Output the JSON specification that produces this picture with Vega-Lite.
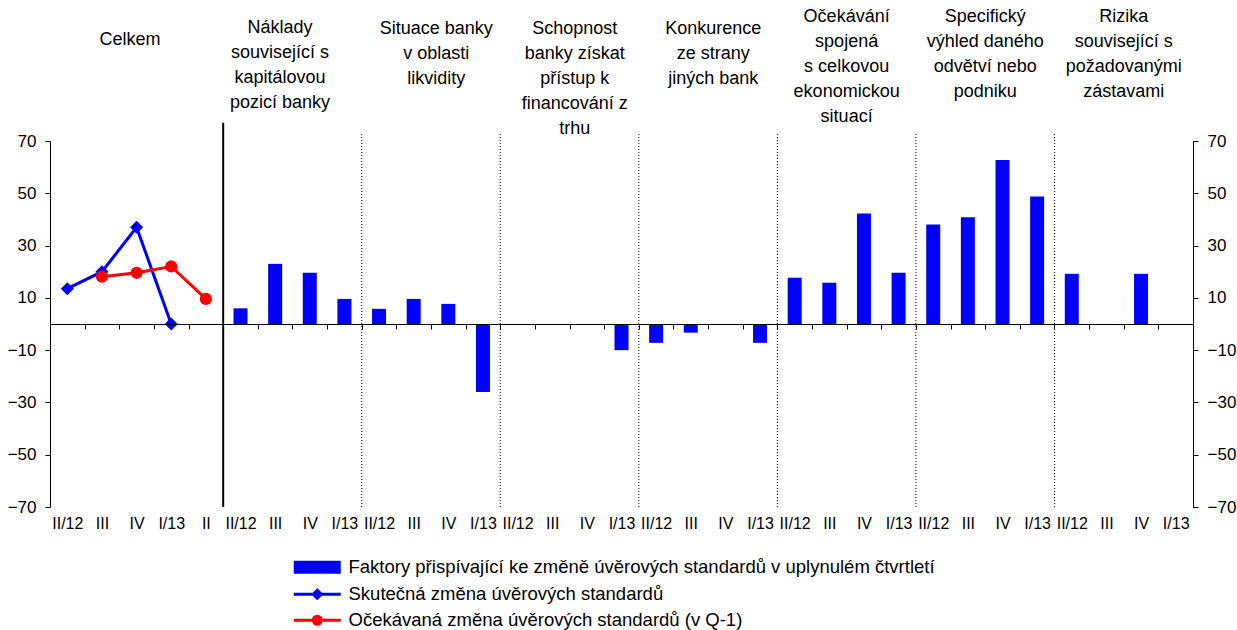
{
  "$schema": "https://vega.github.io/schema/vega-lite/v6.json",
  "width": 1143,
  "height": 366,
  "autosize": {"type": "none"},
  "padding": {"left": 50, "top": 141, "right": 44, "bottom": 123},
  "background": "white",
  "config": {
    "view": {"stroke": null},
    "font": "Liberation Sans",
    "axis": {"labelFont": "Liberation Sans", "labelFontSize": 17, "labelColor": "#000000", "domainColor": "#000000", "tickColor": "#000000", "grid": false, "title": null}
  },
  "data": {"values": [
      {"q": "1_II/12", "series": "Faktory přispívající ke změně úvěrových standardů v uplynulém čtvrtletí", "value": 6},
      {"q": "1_III", "series": "Faktory přispívající ke změně úvěrových standardů v uplynulém čtvrtletí", "value": 23},
      {"q": "1_IV", "series": "Faktory přispívající ke změně úvěrových standardů v uplynulém čtvrtletí", "value": 19.6},
      {"q": "1_I/13", "series": "Faktory přispívající ke změně úvěrových standardů v uplynulém čtvrtletí", "value": 9.6},
      {"q": "2_II/12", "series": "Faktory přispívající ke změně úvěrových standardů v uplynulém čtvrtletí", "value": 5.8},
      {"q": "2_III", "series": "Faktory přispívající ke změně úvěrových standardů v uplynulém čtvrtletí", "value": 9.6},
      {"q": "2_IV", "series": "Faktory přispívající ke změně úvěrových standardů v uplynulém čtvrtletí", "value": 7.7},
      {"q": "2_I/13", "series": "Faktory přispívající ke změně úvěrových standardů v uplynulém čtvrtletí", "value": -26},
      {"q": "3_II/12", "series": "Faktory přispívající ke změně úvěrových standardů v uplynulém čtvrtletí", "value": 0},
      {"q": "3_III", "series": "Faktory přispívající ke změně úvěrových standardů v uplynulém čtvrtletí", "value": 0},
      {"q": "3_IV", "series": "Faktory přispívající ke změně úvěrových standardů v uplynulém čtvrtletí", "value": 0},
      {"q": "3_I/13", "series": "Faktory přispívající ke změně úvěrových standardů v uplynulém čtvrtletí", "value": -10},
      {"q": "4_II/12", "series": "Faktory přispívající ke změně úvěrových standardů v uplynulém čtvrtletí", "value": -7.2},
      {"q": "4_III", "series": "Faktory přispívající ke změně úvěrových standardů v uplynulém čtvrtletí", "value": -3.3},
      {"q": "4_IV", "series": "Faktory přispívající ke změně úvěrových standardů v uplynulém čtvrtletí", "value": 0},
      {"q": "4_I/13", "series": "Faktory přispívající ke změně úvěrových standardů v uplynulém čtvrtletí", "value": -7.2},
      {"q": "5_II/12", "series": "Faktory přispívající ke změně úvěrových standardů v uplynulém čtvrtletí", "value": 17.7},
      {"q": "5_III", "series": "Faktory přispívající ke změně úvěrových standardů v uplynulém čtvrtletí", "value": 15.8},
      {"q": "5_IV", "series": "Faktory přispívající ke změně úvěrových standardů v uplynulém čtvrtletí", "value": 42.3},
      {"q": "5_I/13", "series": "Faktory přispívající ke změně úvěrových standardů v uplynulém čtvrtletí", "value": 19.6},
      {"q": "6_II/12", "series": "Faktory přispívající ke změně úvěrových standardů v uplynulém čtvrtletí", "value": 38.1},
      {"q": "6_III", "series": "Faktory přispívající ke změně úvěrových standardů v uplynulém čtvrtletí", "value": 40.8},
      {"q": "6_IV", "series": "Faktory přispívající ke změně úvěrových standardů v uplynulém čtvrtletí", "value": 62.7},
      {"q": "6_I/13", "series": "Faktory přispívající ke změně úvěrových standardů v uplynulém čtvrtletí", "value": 48.8},
      {"q": "7_II/12", "series": "Faktory přispívající ke změně úvěrových standardů v uplynulém čtvrtletí", "value": 19.2},
      {"q": "7_III", "series": "Faktory přispívající ke změně úvěrových standardů v uplynulém čtvrtletí", "value": 0},
      {"q": "7_IV", "series": "Faktory přispívající ke změně úvěrových standardů v uplynulém čtvrtletí", "value": 19.2},
      {"q": "7_I/13", "series": "Faktory přispívající ke změně úvěrových standardů v uplynulém čtvrtletí", "value": 0},
      {"q": "0_II/12", "series": "Skutečná změna úvěrových standardů", "value": 13.5},
      {"q": "0_III", "series": "Skutečná změna úvěrových standardů", "value": 20},
      {"q": "0_IV", "series": "Skutečná změna úvěrových standardů", "value": 37},
      {"q": "0_I/13", "series": "Skutečná změna úvěrových standardů", "value": 0},
      {"q": "0_III", "series": "Očekávaná změna úvěrových standardů (v Q-1)", "value": 18.1},
      {"q": "0_IV", "series": "Očekávaná změna úvěrových standardů (v Q-1)", "value": 19.6},
      {"q": "0_I/13", "series": "Očekávaná změna úvěrových standardů (v Q-1)", "value": 22},
      {"q": "0_II", "series": "Očekávaná změna úvěrových standardů (v Q-1)", "value": 9.6},
      {"q": "0_IV", "head": "Celkem", "tier": "c"},
      {"q": "1_III", "head": "Náklady\nsouvisející s\nkapitálovou\npozicí banky", "tier": "n"},
      {"q": "2_III", "head": "Situace banky\nv oblasti\nlikvidity", "tier": "b"},
      {"q": "3_III", "head": "Schopnost\nbanky získat\npřístup k\nfinancování z\ntrhu", "tier": "b"},
      {"q": "4_III", "head": "Konkurence\nze strany\njiných bank", "tier": "b"},
      {"q": "5_III", "head": "Očekávání\nspojená\ns celkovou\nekonomickou\nsituací", "tier": "a"},
      {"q": "6_III", "head": "Specifický\nvýhled daného\nodvětví nebo\npodniku", "tier": "a"},
      {"q": "7_III", "head": "Rizika\nsouvisející s\npožadovanými\nzástavami", "tier": "a"}
  ]},
  "resolve": {"scale": {"y": "independent"}},
  "layer": [
    {
      "encoding": {
        "x": {
          "field": "q", "type": "nominal", "sort": null,
          "scale": {"domain": ["0_II/12","0_III","0_IV","0_I/13","0_II","1_II/12","1_III","1_IV","1_I/13","2_II/12","2_III","2_IV","2_I/13","3_II/12","3_III","3_IV","3_I/13","4_II/12","4_III","4_IV","4_I/13","5_II/12","5_III","5_IV","5_I/13","6_II/12","6_III","6_IV","6_I/13","7_II/12","7_III","7_IV","7_I/13"], "paddingInner": 0, "paddingOuter": 0},
          "axis": {"orient": "bottom", "offset": -183, "labelExpr": "split(datum.value, '_')[1]", "labelAngle": 0, "labelFontSize": 16, "labelPadding": 186, "labelBaseline": "top", "tickBand": "extent", "tickSize": 5, "domainWidth": 1, "labelOverlap": false, "title": null, "zindex": 1}
        }
      },
      "layer": [
        {
          "transform": [{"filter": "datum.series === 'Faktory přispívající ke změně úvěrových standardů v uplynulém čtvrtletí'"}],
          "mark": {"type": "bar", "size": 14, "color": "#0000FF"},
          "encoding": {
            "y": {"field": "value", "type": "quantitative", "scale": {"domain": [-70, 70], "nice": false, "zero": false}, "axis": {"orient": "left", "values": [-70, -50, -30, -10, 10, 30, 50, 70], "tickSize": 5, "labelPadding": 9, "title": null}}
          }
        },
        {
          "transform": [{"filter": "datum.series === 'Skutečná změna úvěrových standardů'"}],
          "mark": {"type": "line", "color": "#0000FF", "strokeWidth": 3},
          "encoding": {
            "y": {"field": "value", "type": "quantitative", "scale": {"domain": [-70, 70], "nice": false, "zero": false}, "axis": {"orient": "left", "values": [-70, -50, -30, -10, 10, 30, 50, 70], "tickSize": 5, "labelPadding": 9, "title": null}}
          }
        },
        {
          "transform": [{"filter": "datum.series === 'Skutečná změna úvěrových standardů'"}],
          "mark": {"type": "point", "shape": "diamond", "filled": true, "color": "#0000FF", "size": 170, "opacity": 1},
          "encoding": {
            "y": {"field": "value", "type": "quantitative", "scale": {"domain": [-70, 70], "nice": false, "zero": false}, "axis": {"orient": "left", "values": [-70, -50, -30, -10, 10, 30, 50, 70], "tickSize": 5, "labelPadding": 9, "title": null}}
          }
        },
        {
          "transform": [{"filter": "datum.series === 'Očekávaná změna úvěrových standardů (v Q-1)'"}],
          "mark": {"type": "line", "color": "#FF0000", "strokeWidth": 3},
          "encoding": {
            "y": {"field": "value", "type": "quantitative", "scale": {"domain": [-70, 70], "nice": false, "zero": false}, "axis": {"orient": "left", "values": [-70, -50, -30, -10, 10, 30, 50, 70], "tickSize": 5, "labelPadding": 9, "title": null}}
          }
        },
        {
          "transform": [{"filter": "datum.series === 'Očekávaná změna úvěrových standardů (v Q-1)'"}],
          "mark": {"type": "point", "shape": "circle", "filled": true, "color": "#FF0000", "size": 150, "opacity": 1},
          "encoding": {
            "y": {"field": "value", "type": "quantitative", "scale": {"domain": [-70, 70], "nice": false, "zero": false}, "axis": {"orient": "left", "values": [-70, -50, -30, -10, 10, 30, 50, 70], "tickSize": 5, "labelPadding": 9, "title": null}}
          }
        },
        {
          "transform": [{"filter": "datum.q === '1_II/12' && isValid(datum.series)"}],
          "mark": {"type": "rule", "color": "#000000", "strokeWidth": 2},
          "encoding": {
            "x": {"field": "q", "type": "nominal", "sort": null, "bandPosition": 0},
            "y": {"datum": -70},
            "y2": {"datum": 77}
          }
        },
        {
          "transform": [{"filter": "datum.series === 'Faktory přispívající ke změně úvěrových standardů v uplynulém čtvrtletí' && datum.q !== '1_II/12' && indexof(datum.q, '_II/12') > 0"}],
          "mark": {"type": "rule", "color": "#000000", "strokeWidth": 1, "strokeDash": [1, 2]},
          "encoding": {
            "x": {"field": "q", "type": "nominal", "sort": null, "bandPosition": 0},
            "y": {"datum": -70},
            "y2": {"datum": 73}
          }
        },
        {
          "transform": [{"filter": "datum.tier === 'c'"}],
          "mark": {"type": "text", "align": "center", "baseline": "top", "fontSize": 18, "lineHeight": 25, "lineBreak": "\n", "fill": "#000000"},
          "encoding": {
            "x": {"field": "q", "type": "nominal", "sort": null, "bandPosition": 0.31},
            "y": {"datum": 112.2},
            "text": {"field": "head", "type": "nominal"}
          }
        },
        {
          "transform": [{"filter": "datum.tier === 'n'"}],
          "mark": {"type": "text", "align": "center", "baseline": "top", "fontSize": 18, "lineHeight": 25, "lineBreak": "\n", "fill": "#000000"},
          "encoding": {
            "x": {"field": "q", "type": "nominal", "sort": null, "bandPosition": 0.64},
            "y": {"datum": 116.6},
            "text": {"field": "head", "type": "nominal"}
          }
        },
        {
          "transform": [{"filter": "datum.tier === 'b'"}],
          "mark": {"type": "text", "align": "center", "baseline": "top", "fontSize": 18, "lineHeight": 25, "lineBreak": "\n", "fill": "#000000"},
          "encoding": {
            "x": {"field": "q", "type": "nominal", "sort": null, "bandPosition": 1.15},
            "y": {"datum": 116.3},
            "text": {"field": "head", "type": "nominal"}
          }
        },
        {
          "transform": [{"filter": "datum.tier === 'a'"}],
          "mark": {"type": "text", "align": "center", "baseline": "top", "fontSize": 18, "lineHeight": 25, "lineBreak": "\n", "fill": "#000000"},
          "encoding": {
            "x": {"field": "q", "type": "nominal", "sort": null, "bandPosition": 1},
            "y": {"datum": 121},
            "text": {"field": "head", "type": "nominal"}
          }
        },
        {
          "transform": [{"filter": "isValid(datum.series)"}],
          "mark": {"type": "point", "filled": true, "opacity": 0, "strokeWidth": 3},
          "encoding": {
            "fill": {
              "field": "series", "type": "nominal",
              "scale": {"domain": ["Faktory přispívající ke změně úvěrových standardů v uplynulém čtvrtletí", "Skutečná změna úvěrových standardů", "Očekávaná změna úvěrových standardů (v Q-1)"], "range": ["#0000FF", "#0000FF", "#FF0000"]},
              "legend": {"title": null, "orient": "none", "legendX": 241, "legendY": 417, "direction": "vertical", "symbolSize": 100, "symbolStrokeWidth": 3, "symbolOpacity": 1, "symbolOffset": 17, "labelOffset": 22, "labelFontSize": 18.5, "labelFont": "Liberation Sans", "labelColor": "#000000", "rowPadding": 5, "labelLimit": 900}
            },
            "stroke": {
              "field": "series", "type": "nominal",
              "scale": {"domain": ["Faktory přispívající ke změně úvěrových standardů v uplynulém čtvrtletí", "Skutečná změna úvěrových standardů", "Očekávaná změna úvěrových standardů (v Q-1)"], "range": ["#0000FF", "#0000FF", "#FF0000"]},
              "legend": {"title": null, "orient": "none", "legendX": 241, "legendY": 417, "direction": "vertical", "symbolSize": 100, "symbolStrokeWidth": 3, "symbolOpacity": 1, "symbolOffset": 17, "labelOffset": 22, "labelFontSize": 18.5, "labelFont": "Liberation Sans", "labelColor": "#000000", "rowPadding": 5, "labelLimit": 900}
            },
            "shape": {
              "field": "series", "type": "nominal",
              "scale": {"domain": ["Faktory přispívající ke změně úvěrových standardů v uplynulém čtvrtletí", "Skutečná změna úvěrových standardů", "Očekávaná změna úvěrových standardů (v Q-1)"], "range": ["M-4.4,-1H4.4V1H-4.4Z", "M-4.7,0H4.7M0,-0.8L0.8,0L0,0.8L-0.8,0Z", "M-4.7,0H4.7M-0.8,0A0.8,0.8,0,1,0,0.8,0A0.8,0.8,0,1,0,-0.8,0Z"]},
              "legend": {"title": null, "orient": "none", "legendX": 241, "legendY": 417, "direction": "vertical", "symbolSize": 100, "symbolStrokeWidth": 3, "symbolOpacity": 1, "symbolOffset": 17, "labelOffset": 22, "labelFontSize": 18.5, "labelFont": "Liberation Sans", "labelColor": "#000000", "rowPadding": 5, "labelLimit": 900}
            }
          }
        }
      ]
    },
    {
      "transform": [{"filter": "isValid(datum.value)"}],
      "mark": {"type": "rule", "opacity": 0},
      "encoding": {
        "y": {
          "field": "value", "type": "quantitative",
          "scale": {"domain": [-70, 70], "nice": false, "zero": false},
          "axis": {"orient": "right", "values": [-70, -50, -30, -10, 10, 30, 50, 70], "tickSize": 5, "labelPadding": 9, "title": null}
        }
      }
    }
  ]
}
